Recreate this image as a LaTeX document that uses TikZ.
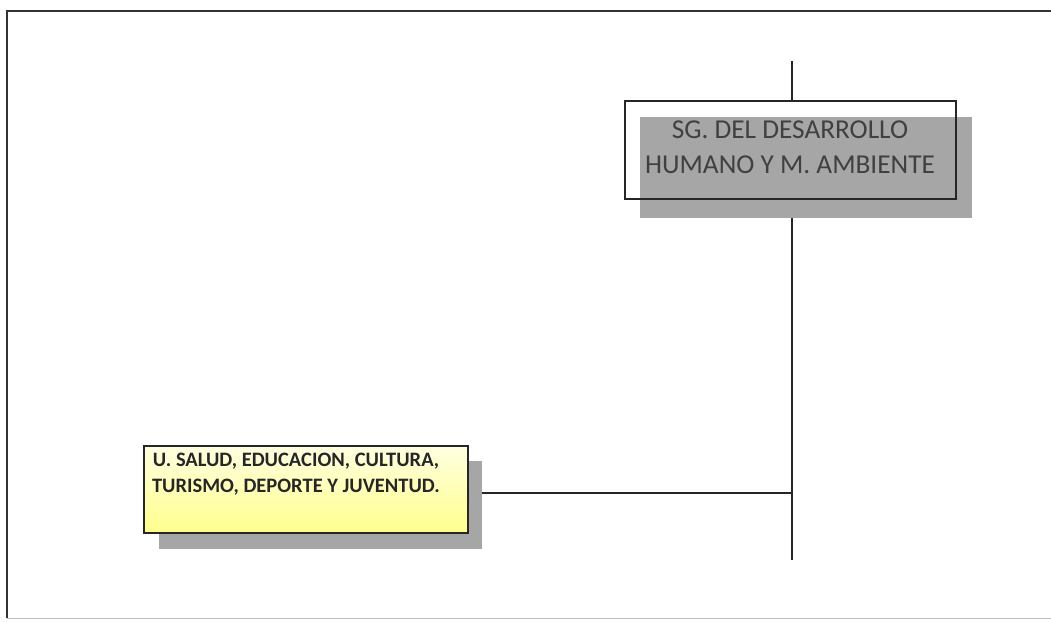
\documentclass[tikz,border=0pt]{standalone}
\usepackage{fontspec}
\setmainfont{Carlito}
\begin{document}
\begin{tikzpicture}[x=1pt,y=-1pt,
  framel/.style={draw=black!80,line width=1.6pt},
  conn/.style={draw=black!85,line width=1.2pt},
  grayshadow/.style={fill=black!35,draw=none,inner sep=0pt},
  outlinebox/.style={draw=black!85,line width=1.2pt,inner sep=0pt},
  ybox/.style={draw=black!85,line width=1.1pt,inner sep=0pt,left color=yellow!12!white,right color=yellow!45!white,shading angle=0},
  yshadow/.style={fill=black!35,draw=none,inner sep=0pt}]
\useasboundingbox (0,0) rectangle (1051,621);
\fill[white] (0,0) rectangle (1051,621);
% frame
\draw[framel] (1051,11) -- (7,11) -- (7,618);
\draw[black!25,line width=0.8pt] (7,618) -- (1051,618);
% vertical connector
\coordinate (vtop) at (792,61);
\coordinate (vbot) at (792,560);
\coordinate (junc) at (792,493);
\draw[conn] (vtop) -- (vbot);
% top unit
\node[fill=white,draw=none,minimum width=331pt,minimum height=98pt,inner sep=0pt] (sgback) at (790.5,150) {};
\node[grayshadow,minimum width=332pt,minimum height=101pt] (sgshadow) at (806,167.5) {};
\node[outlinebox,minimum width=331pt,minimum height=98pt] (sg) at (790.5,150) {};
\node[align=center,font=\fontsize{27.3}{35}\selectfont,text=black!75] (sgtext) at (790,147) {SG. DEL DESARROLLO\\HUMANO Y M. AMBIENTE};
% bottom unit
\node[yshadow,minimum width=323pt,minimum height=88pt] (ushadow) at (320.5,505) {};
\node[ybox,minimum width=324pt,minimum height=87pt] (u) at (306,489.5) {};
\node[align=center,font=\bfseries\fontsize{20.5}{26}\selectfont,text=black!85] (utext) at (296,474) {U. SALUD, EDUCACION, CULTURA,\\TURISMO, DEPORTE Y JUVENTUD.};
\draw[conn] (junc) -- (junc -| ushadow.east);
\end{tikzpicture}
\end{document}
